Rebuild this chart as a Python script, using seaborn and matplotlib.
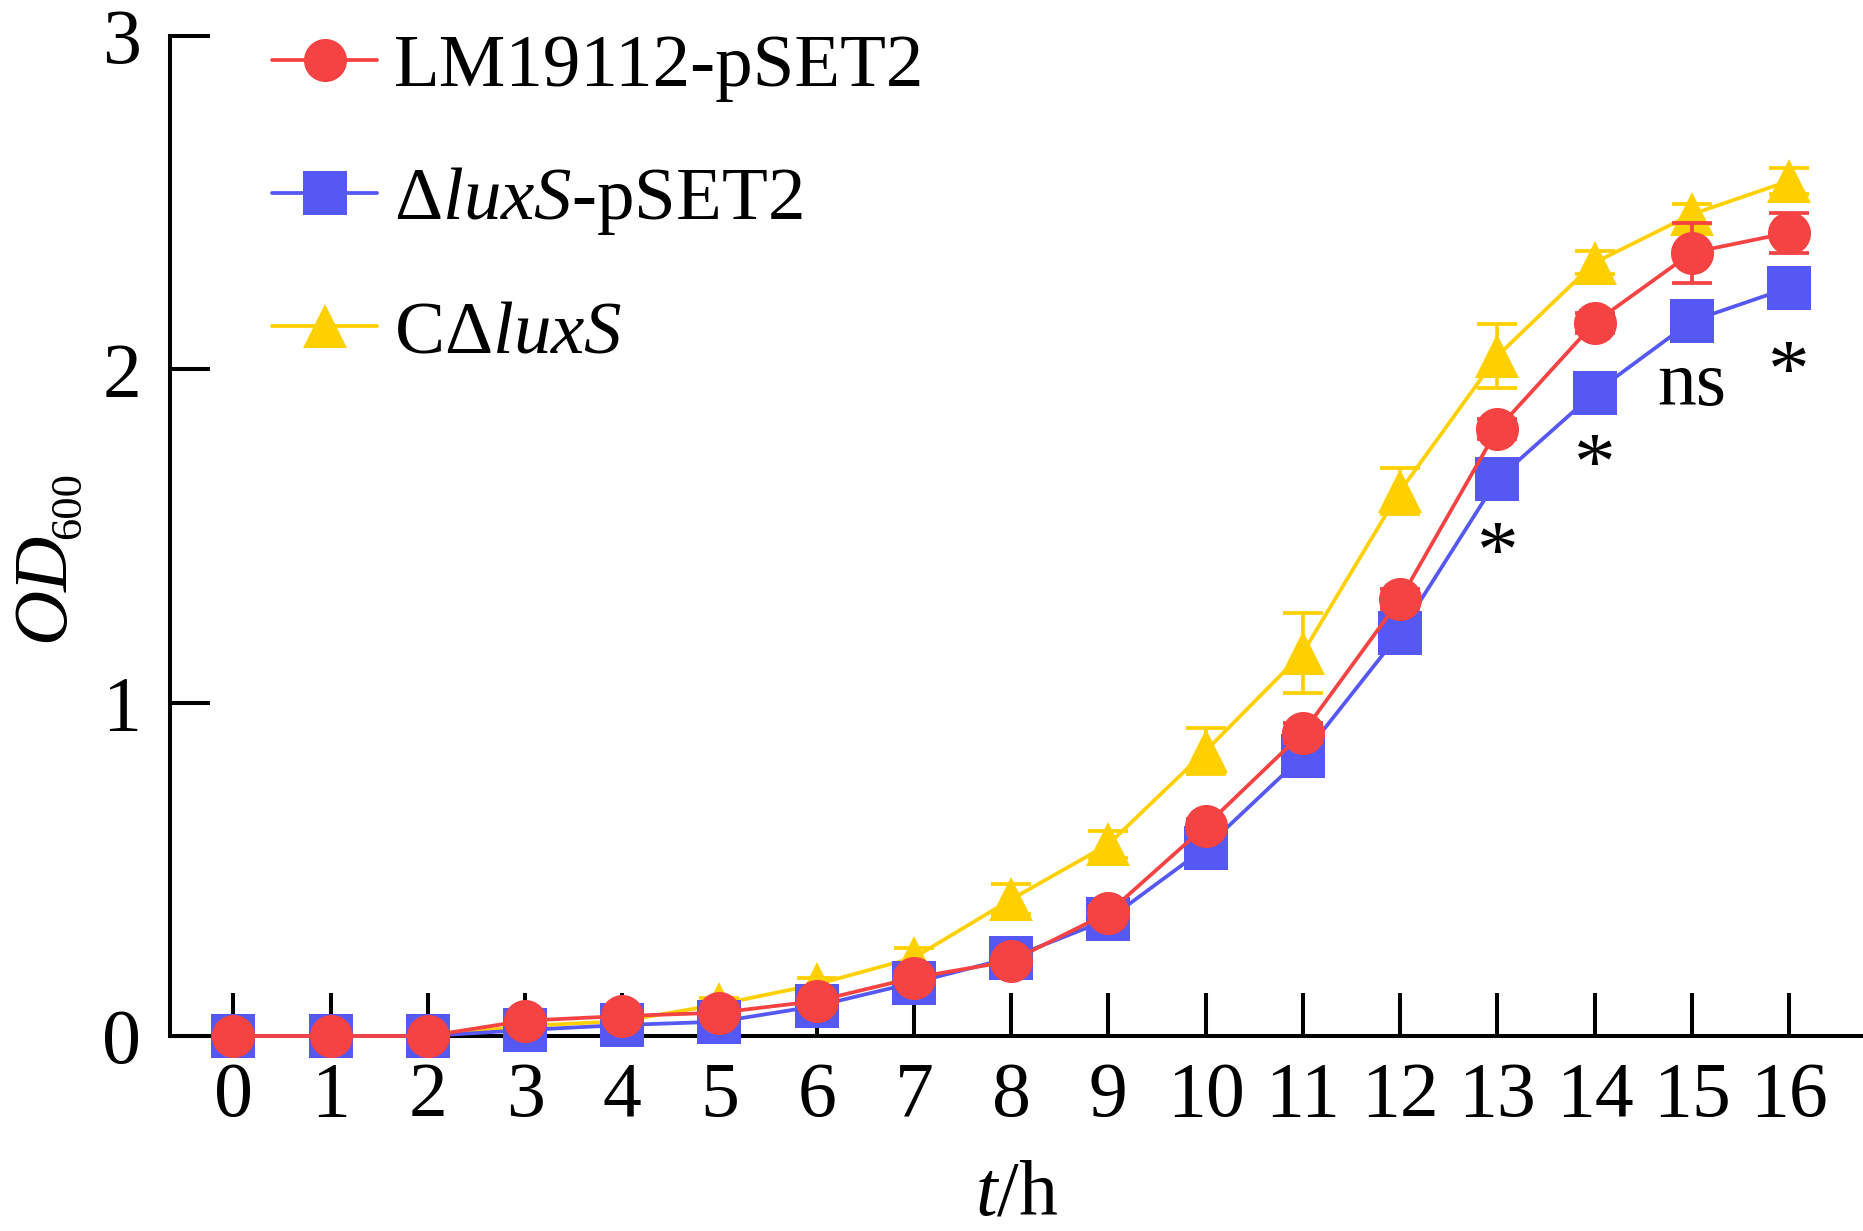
import numpy as np
import pandas as pd
import matplotlib
matplotlib.use("Agg")
import matplotlib.pyplot as plt
import seaborn as sns
from matplotlib.lines import Line2D

hours = list(range(17))
lm_mean = [0, 0, 0, 0.046, 0.06, 0.07, 0.105, 0.175, 0.225, 0.37, 0.63, 0.91, 1.31, 1.82, 2.14, 2.35, 2.41]
lm_err = [0, 0, 0, 0.01, 0.01, 0.01, 0.015, 0.02, 0.02, 0.02, 0.02, 0.03, 0.03, 0.03, 0.03, 0.09, 0.06]
dl_mean = [0, 0, 0, 0.018, 0.033, 0.043, 0.09, 0.16, 0.235, 0.35, 0.565, 0.84, 1.21, 1.67, 1.93, 2.145, 2.245]
dl_err = [0, 0, 0, 0.01, 0.01, 0.01, 0.01, 0.02, 0.02, 0.02, 0.02, 0.02, 0.03, 0.03, 0.03, 0.03, 0.03]
cd_mean = [0, 0, 0, 0.03, 0.045, 0.095, 0.155, 0.235, 0.41, 0.575, 0.855, 1.15, 1.635, 2.04, 2.32, 2.465, 2.565]
cd_err = [0, 0, 0, 0.01, 0.01, 0.02, 0.02, 0.03, 0.045, 0.04, 0.07, 0.12, 0.07, 0.095, 0.035, 0.03, 0.04]

strains = ["LM19112-pSET2", r"$\Delta\mathit{luxS}$-pSET2", r"C$\Delta\mathit{luxS}$"]
colors = ["#F54242", "#5558F3", "#FFD000"]
markers = ["o", "s", "^"]

sig_hours = [13, 14, 15, 16]
sig_labels = ["*", "*", "ns", "*"]
sig_y = [1.435, 1.70, 1.95, 1.98]

sns.set_style("ticks")
plt.rcParams["font.family"] = ["Liberation Serif", "DejaVu Serif"]
plt.rcParams["mathtext.fontset"] = "custom"
plt.rcParams["mathtext.rm"] = "Liberation Serif"
plt.rcParams["mathtext.it"] = "Liberation Serif:italic"
plt.rcParams["mathtext.bf"] = "Liberation Serif:bold"
for k in ["text.color", "axes.labelcolor", "xtick.color", "ytick.color", "axes.edgecolor"]:
    plt.rcParams[k] = "black"

fig = plt.figure(figsize=(18.63, 12.31), dpi=100)
ax = fig.add_axes([0.0913, 0.1584, 0.9087, 0.8124])

means = [lm_mean, dl_mean, cd_mean]
errs = [lm_err, dl_err, cd_err]
msizes = [31, 31, 31]
# draw order: yellow, blue, red
for i in [2, 1, 0]:
    df = pd.DataFrame({"t": hours, "od": means[i]})
    ax.errorbar(hours, means[i], yerr=errs[i], fmt="none", ecolor=colors[i],
                elinewidth=2.7, capsize=14.5, capthick=2.7, zorder=2 + (2 - i) * 2, clip_on=False)
    sns.lineplot(data=df, x="t", y="od", ax=ax, color=colors[i], marker=markers[i],
                 markersize=msizes[i], markeredgewidth=0, linewidth=2.7,
                 zorder=3 + (2 - i) * 2, clip_on=False, legend=False)

for h, lab, yy in zip(sig_hours, sig_labels, sig_y):
    ax.text(h, yy, lab, ha="center", va="center", fontsize=56 if lab == "ns" else 60, color="black")

ax.set_xlim(-0.65, 16.76)
ax.set_ylim(0, 3)
ax.set_xticks(hours)
ax.set_yticks([0, 1, 2, 3])
ax.tick_params(axis="both", direction="in", width=2.9, labelsize=56, color="black")
ax.tick_params(axis="x", length=31, pad=18)
ax.tick_params(axis="y", length=29, pad=21)
for s in ["top", "right"]:
    ax.spines[s].set_visible(False)
for s in ["left", "bottom"]:
    ax.spines[s].set_linewidth(2.9)
    ax.spines[s].set_color("black")
ax.set_xlabel(r"$\mathit{t}$/h", fontsize=56, labelpad=20)
ax.set_ylabel("")

# y label: italic OD with a small subscript 600
fig.text(63 / 1863, 1 - 642 / 1231, "OD", rotation=90, rotation_mode="anchor",
         ha="left", va="baseline", fontsize=55, fontstyle="italic")
fig.text(80 / 1863, 1 - 539 / 1231, "600", rotation=90, rotation_mode="anchor",
         ha="left", va="baseline", fontsize=32)

handles = [Line2D([0], [0], color=colors[i], marker=markers[i], markersize=msizes[i],
                  markeredgewidth=0, linewidth=2.7) for i in range(3)]
leg = ax.legend(handles, strains, loc="upper left", bbox_to_anchor=(0.0205, 1.07), frameon=False,
                fontsize=54, handlelength=1.4, handletextpad=0.22, labelspacing=0.84)

fig.savefig("out.png", dpi=100)
